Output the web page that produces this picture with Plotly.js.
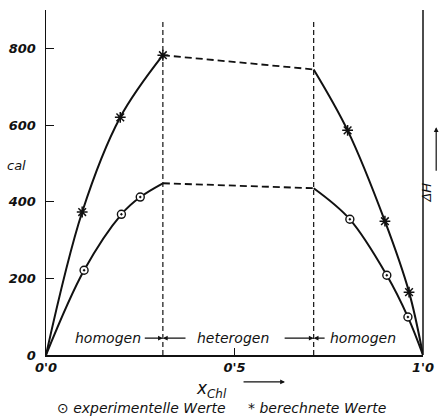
<!DOCTYPE html>
<html>
<head>
<meta charset="utf-8">
<script src="https://cdn.plot.ly/plotly-3.0.1.min.js"></script>
<style>html,body{margin:0;padding:0;background:#fff}#chart{width:443px;height:419px}</style>
</head>
<body>
<div id="chart"></div>
<script>
// Phase boundaries (mole fraction x_Chl)
const boundaryX = [0.31, 0.71];

// Calculated values (berechnete Werte, *)
const calcX = [0.096, 0.197, 0.31, 0.80, 0.899, 0.963];
const calcY = [373, 620, 782, 586, 349, 164];

// Experimental values (experimentelle Werte, circle)
const expX = [0.101, 0.20, 0.25, 0.806, 0.904, 0.96];
const expY = [221, 367, 412, 354, 208, 99];

// Curve paths
const calcLeftX = [0, 0.096, 0.197, 0.31];
const calcLeftY = [0, 373, 620, 782];
const calcMidX = [0.31, 0.71];
const calcMidY = [782, 745];
const calcRightX = [0.71, 0.80, 0.899, 0.963, 1.0];
const calcRightY = [745, 586, 349, 164, 0];

const expLeftX = [0, 0.101, 0.20, 0.25, 0.31];
const expLeftY = [0, 221, 367, 412, 448];
const expMidX = [0.31, 0.71];
const expMidY = [448, 435];
const expRightX = [0.71, 0.806, 0.904, 0.96, 1.0];
const expRightY = [435, 354, 208, 99, 0];

const xTickVals = [0, 0.5, 1];
const xTickText = ["0'0", "0'5", "1'0"];
const yTickVals = [0, 200, 400, 600, 800];
const yTickText = ["0", "200", "400", "600", "800"];

const regionLabels = ["homogen", "heterogen", "homogen"];
const regionLabelX = [0.165, 0.497, 0.84];

const FONT = "DejaVu Sans";
const ink = "#111";

function solid(x, y) {
  return {x: x, y: y, mode: 'lines', type: 'scatter', hoverinfo: 'skip', showlegend: false,
    line: {color: ink, width: 2, shape: 'spline', smoothing: 1}};
}
function dashed(x, y) {
  return {x: x, y: y, mode: 'lines', type: 'scatter', hoverinfo: 'skip', showlegend: false,
    line: {color: ink, width: 1.8, dash: '7px,4px'}};
}

const traces = [
  solid(calcLeftX, calcLeftY), dashed(calcMidX, calcMidY), solid(calcRightX, calcRightY),
  solid(expLeftX, expLeftY), dashed(expMidX, expMidY), solid(expRightX, expRightY),
  {x: calcX, y: calcY, mode: 'markers', type: 'scatter', showlegend: false,
    marker: {symbol: 'asterisk-open', size: 9, color: ink, line: {color: ink, width: 1.5}}},
  {x: expX, y: expY, mode: 'markers', type: 'scatter', showlegend: false,
    marker: {symbol: 'circle-dot', size: 8, color: '#fff', line: {color: ink, width: 1.4}}}
];

const shapes = boundaryX.map(bx => ({type: 'line', xref: 'x', yref: 'y', x0: bx, x1: bx, y0: 0, y1: 870,
  line: {color: ink, width: 1.2, dash: '5px,3px'}}));
shapes.push({type: 'line', xref: 'paper', yref: 'paper', x0: 1, x1: 1, y0: 0, y1: 1, line: {color: ink, width: 1.5}});

const txtFont = {family: FONT, size: 14, color: ink, style: 'italic'};
const annotations = [];
regionLabels.forEach((t, i) => annotations.push({x: regionLabelX[i], y: 44, xref: 'x', yref: 'y', text: t,
  showarrow: false, font: txtFont}));
// arrows toward boundaries
const arrowY = 44;
const arrowPairs = [[0.258, 0.31], [0.374, 0.31], [0.629, 0.71], [0.743, 0.71]];
arrowPairs.forEach(p => annotations.push({x: p[1], y: arrowY, ax: p[0], ay: arrowY, xref: 'x', yref: 'y',
  axref: 'x', ayref: 'y', text: '', showarrow: true, arrowhead: 2, arrowsize: 0.8, arrowwidth: 1.2, arrowcolor: ink}));

annotations.push({xref: 'paper', yref: 'y', x: -0.077, y: 495, text: 'cal', showarrow: false,
  font: {family: FONT, size: 13, color: ink, style: 'italic'}, xanchor: 'center'});
annotations.push({xref: 'paper', yref: 'paper', x: 0.44, y: -0.06, yanchor: 'top', xanchor: 'center',
  text: '<i>x</i><sub>Chl</sub>', showarrow: false, font: {family: FONT, size: 17, color: ink, style: 'italic'}});
annotations.push({xref: 'paper', yref: 'paper', x: 0.634, y: -0.078, ax: 0.52, ay: -0.078, axref: 'paper', ayref: 'paper',
  text: '', showarrow: true, arrowhead: 2, arrowsize: 0.8, arrowwidth: 1.2, arrowcolor: ink});
annotations.push({xref: 'paper', yref: 'paper', x: 0.025, y: -0.155, yanchor: 'middle', xanchor: 'left',
  text: '⊙ experimentelle Werte', showarrow: false, font: {family: FONT, size: 14, color: ink, style: 'italic'}});
annotations.push({xref: 'paper', yref: 'paper', x: 0.53, y: -0.155, yanchor: 'middle', xanchor: 'left',
  text: '* berechnete Werte', showarrow: false, font: {family: FONT, size: 14, color: ink, style: 'italic'}});
// ΔH label on right
annotations.push({xref: 'paper', yref: 'paper', x: 1.035, y: 0.47, text: 'ΔH', textangle: -90, showarrow: false,
  font: {family: FONT, size: 13, color: ink, style: 'italic'}});
annotations.push({xref: 'paper', yref: 'paper', x: 1.035, y: 0.66, ax: 1.035, ay: 0.53, axref: 'paper', ayref: 'paper',
  text: '', showarrow: true, arrowhead: 2, arrowsize: 0.8, arrowwidth: 1.2, arrowcolor: ink});

const layout = {
  width: 443, height: 419,
  margin: {l: 46, r: 20, t: 10, b: 64},
  paper_bgcolor: '#fff', plot_bgcolor: '#fff',
  showlegend: false,
  xaxis: {range: [0, 1], tickvals: xTickVals, ticktext: xTickText, ticks: 'inside', ticklen: 7,
    tickcolor: ink, showline: true, linecolor: ink, linewidth: 1.5, showgrid: false, zeroline: false,
    tickfont: {family: FONT, size: 13, color: ink, style: 'italic', weight: 'bold'}},
  yaxis: {range: [0, 900], tickvals: yTickVals, ticktext: yTickText, ticks: 'inside', ticklen: 8,
    tickcolor: ink, showline: true, linecolor: ink, linewidth: 1.5, showgrid: false, zeroline: false,
    ticklabelstandoff: 6,
    tickfont: {family: FONT, size: 13, color: ink, style: 'italic', weight: 'bold'}},
  shapes: shapes,
  annotations: annotations
};

Plotly.newPlot('chart', traces, layout, {staticPlot: true, displayModeBar: false});
</script>
</body>
</html>
